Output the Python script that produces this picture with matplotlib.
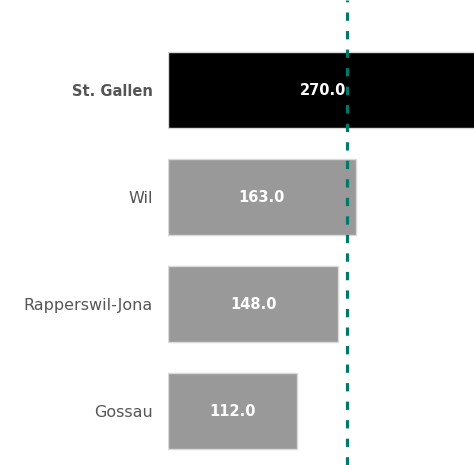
import matplotlib.pyplot as plt
import numpy as np

# dados
orte = ["St. Gallen", "Wil", "Rapperswil-Jona", "Gossau"]
werte = [270.0, 163.0, 148.0, 112.0]
farben = ["#000000", "#999999", "#999999", "#999999"]

plt.rcParams["font.family"] = ["DejaVu Sans"]

fig = plt.figure(figsize=(4.74, 4.65), dpi=100)
ax = fig.add_axes([168 / 474, 0, 1 - 168 / 474, 1])

pos = np.arange(len(orte))
ax.barh(pos, werte, height=0.71, color=farben, edgecolor="#d9d9d9", linewidth=1)

for p, v in zip(pos, werte):
    ax.text(v / 2, p, f"{v:.1f}", ha="center", va="center",
            color="white", fontsize=10.5, fontweight="bold")

median = np.median(werte)
ax.axvline(median, color="#00796b", lw=2.3, linestyle=(0, (2.6, 3.2)))

ax.set_xlim(0, 266)
ax.set_ylim(3.5, -0.84)
ax.set_yticks(pos)
ax.set_yticklabels(orte, fontsize=11.5, color="#555555")
fett = ax.get_yticklabels()[0]
fett.set_fontweight("bold")
fett.set_fontsize(10.5)
ax.tick_params(axis="y", length=0, pad=11)
ax.set_xticks([])
for s in ax.spines.values():
    s.set_visible(False)

fig.savefig("out.png", dpi=100)
